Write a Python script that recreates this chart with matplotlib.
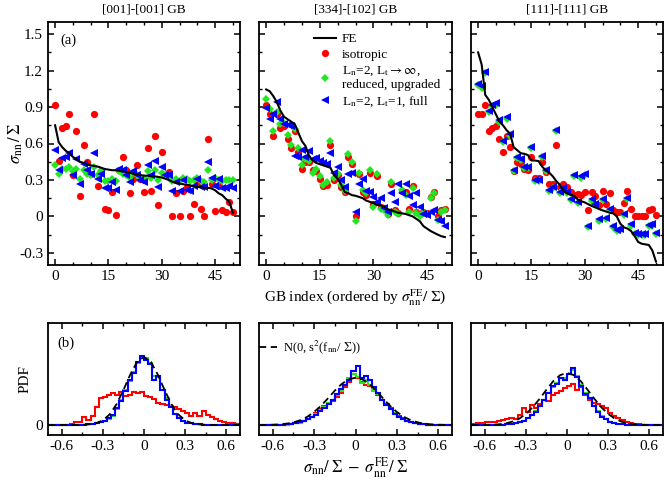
import numpy as np
import matplotlib
matplotlib.use("Agg")
import matplotlib.pyplot as plt

# --- (a) normal stress per GB, ordered by the FE value -----------------------
gb_index = list(range(51))

fe_001 = [0.75, 0.61, 0.57, 0.54, 0.52, 0.49, 0.47, 0.45, 0.44, 0.43,
          0.42, 0.415, 0.41, 0.40, 0.39, 0.385, 0.38, 0.38, 0.375, 0.37,
          0.365, 0.36, 0.35, 0.345, 0.34, 0.335, 0.335, 0.33, 0.33, 0.325,
          0.32, 0.31, 0.30, 0.285, 0.275, 0.27, 0.265, 0.26, 0.255, 0.25,
          0.245, 0.24, 0.235, 0.235, 0.23, 0.215, 0.19, 0.175, 0.145, 0.12,
          0.03]
iso_001 = [0.917, 0.455, 0.73, 0.74, 0.84, 0.34, 0.70, 0.168, 0.59, 0.444,
           0.35, 0.84, 0.248, 0.37, 0.06, 0.055, 0.2, 0.014, 0.385, 0.49,
           0.385, 0.19, 0.31, 0.427, 0.31, 0.2, 0.567, 0.205, 0.66, 0.09,
           0.53, 0.34, 0.366, 0.003, 0.19, 0.003, 0.205, 0.24, 0.0, 0.1,
           0.27, 0.06, 0.005, 0.64, 0.27, 0.047, 0.253, 0.05, 0.033, 0.118,
           0.04]
red_001 = [0.42, 0.35, 0.39, 0.39, 0.41, 0.37, 0.39, 0.31, 0.38, 0.35,
           0.34, 0.41, 0.34, 0.37, 0.29, 0.29, 0.31, 0.29, 0.37, 0.35,
           0.34, 0.32, 0.36, 0.34, 0.32, 0.32, 0.37, 0.32, 0.385, 0.30,
           0.36, 0.34, 0.32, 0.29, 0.31, 0.29, 0.32, 0.31, 0.29, 0.30,
           0.32, 0.29, 0.28, 0.38, 0.30, 0.32, 0.30, 0.29, 0.30, 0.30,
           0.30]
full_001 = [0.55, 0.38, 0.48, 0.485, 0.525, 0.34, 0.47, 0.27, 0.43, 0.38,
            0.35, 0.52, 0.31, 0.35, 0.235, 0.235, 0.28, 0.215, 0.39, 0.38,
            0.34, 0.28, 0.37, 0.34, 0.30, 0.28, 0.42, 0.34, 0.46, 0.24,
            0.41, 0.34, 0.34, 0.21, 0.28, 0.21, 0.30, 0.215, 0.21, 0.25,
            0.31, 0.24, 0.24, 0.45, 0.32, 0.25, 0.305, 0.23, 0.235, 0.25,
            0.23]

fe_334 = [1.045, 1.03, 0.99, 0.94, 0.87, 0.82, 0.80, 0.78, 0.76, 0.69,
          0.62, 0.58, 0.50, 0.46, 0.44, 0.43, 0.42, 0.41, 0.40, 0.34,
          0.31, 0.26, 0.20, 0.19, 0.175, 0.17, 0.16, 0.15, 0.13, 0.12,
          0.11, 0.095, 0.09, 0.08, 0.06, 0.05, 0.04, 0.03, 0.025, 0.02,
          0.01, 0.0, -0.02, -0.04, -0.08, -0.10, -0.12, -0.135, -0.15, -0.163,
          -0.17]
iso_334 = [0.92, 0.84, 0.66, 0.84, 0.73, 0.74, 0.64, 0.56, 0.70, 0.53,
           0.39, 0.45, 0.45, 0.38, 0.37, 0.31, 0.25, 0.26, 0.59, 0.30,
           0.34, 0.24, 0.20, 0.49, 0.43, 0.0, 0.35, 0.20, 0.18, 0.36,
           0.10, 0.33, 0.08, 0.07, 0.02, 0.27, 0.05, 0.03, 0.21, 0.20,
           0.06, 0.25, 0.04, 0.02, 0.04, 0.03, 0.16, 0.20, 0.0, 0.05,
           0.06]
red_334 = [0.97, 0.88, 0.70, 0.86, 0.76, 0.77, 0.67, 0.59, 0.72, 0.56,
           0.42, 0.47, 0.46, 0.36, 0.39, 0.33, 0.26, 0.28, 0.62, 0.32,
           0.35, 0.26, 0.21, 0.51, 0.45, -0.04, 0.36, 0.22, 0.19, 0.38,
           0.08, 0.35, 0.06, 0.05, 0.01, 0.28, 0.04, 0.02, 0.22, 0.18,
           0.04, 0.23, 0.03, 0.0, 0.03, 0.02, 0.15, 0.19, -0.03, 0.04,
           0.05]
full_334 = [0.89, 0.80, 0.84, 0.94, 0.80, 0.76, 0.75, 0.74, 0.50, 0.49,
            0.55, 0.49, 0.54, 0.47, 0.48, 0.46, 0.44, 0.43, 0.52, 0.36,
            0.41, 0.30, 0.24, 0.35, 0.36, 0.04, 0.27, 0.31, 0.21, 0.20,
            0.16, 0.12, 0.15, 0.07, 0.04, 0.19, 0.12, 0.27, 0.19, 0.27,
            0.17, 0.09, 0.19, 0.08, 0.02, 0.01, 0.04, 0.05, -0.03, -0.04,
            -0.08]

fe_111 = [1.35, 1.25, 1.0, 0.96, 0.9, 0.84, 0.78, 0.75, 0.71, 0.68,
          0.57, 0.545, 0.52, 0.515, 0.505, 0.46, 0.46, 0.455, 0.41, 0.38,
          0.36, 0.33, 0.29, 0.26, 0.21, 0.19, 0.18, 0.17, 0.14, 0.125,
          0.115, 0.10, 0.085, 0.075, 0.06, 0.05, 0.04, 0.03, 0.025, 0.0,
          -0.06, -0.09, -0.10, -0.12, -0.16, -0.21, -0.225, -0.23, -0.235, -0.28,
          -0.37]
iso_111 = [0.843, 0.843, 0.917, 0.70, 0.73, 0.745, 0.64, 0.53, 0.66, 0.57,
           0.37, 0.446, 0.43, 0.39, 0.385, 0.49, 0.32, 0.32, 0.45, 0.366,
           0.264, 0.27, 0.587, 0.242, 0.27, 0.242, 0.2, 0.18, 0.187, 0.18,
           0.2, 0.05, 0.2, 0.165, 0.09, 0.207, 0.105, 0.193, 0.05, 0.036,
           0.036, 0.113, 0.207, 0.063, 0.003, 0.003, 0.003, 0.003, 0.055, 0.063,
           0.014]
red_111 = [1.08, 1.06, 1.18, 0.86, 0.91, 0.92, 0.78, 0.61, 0.80, 0.665,
           0.37, 0.48, 0.465, 0.40, 0.40, 0.56, 0.29, 0.29, 0.49, 0.375,
           0.21, 0.23, 0.70, 0.19, 0.22, 0.19, 0.136, 0.334, 0.108, 0.32,
           0.34, -0.085, 0.13, 0.09, -0.035, 0.136, -0.021, 0.053, -0.085, -0.12,
           -0.11, 0.012, 0.14, -0.076, -0.148, -0.153, -0.153, -0.153, -0.08, -0.076,
           -0.145]
full_111 = [1.09, 1.07, 1.19, 0.87, 0.92, 0.93, 0.79, 0.62, 0.815, 0.675,
            0.38, 0.49, 0.475, 0.41, 0.41, 0.57, 0.30, 0.30, 0.50, 0.385,
            0.22, 0.24, 0.71, 0.20, 0.23, 0.20, 0.146, 0.344, 0.118, 0.33,
            0.35, -0.075, 0.14, 0.10, -0.025, 0.146, -0.011, 0.063, -0.075, -0.11,
            -0.10, 0.022, 0.15, -0.066, -0.138, -0.143, -0.143, -0.143, -0.07, -0.066,
            -0.135]

# --- (b) PDF of the deviation from FE -----------------------------------------
bin_edges = np.round(np.arange(-0.69, 0.70, 0.03), 2)   # 46 bins

h_iso_001 = [0, 0, 0, 0, 0.02, 0.03, 0.12, 0.15, 0.38, 0.23,
             0.40, 0.83, 1.2, 1.28, 1.36, 1.43, 1.36, 1.5, 1.3, 1.35,
             1.5, 1.45, 1.5, 1.31, 1.25, 1.16, 1.0, 0.95, 0.9, 0.86,
             0.83, 0.71, 0.65, 0.56, 0.41, 0.56, 0.41, 0.65, 0.45, 0.35,
             0.26, 0.2, 0.14, 0.1, 0.08, 0.05]
h_red_001 = [0, 0, 0, 0, 0, 0, 0.01, 0.01, 0.02, 0.03,
             0.05, 0.08, 0.12, 0.2, 0.28, 0.42, 0.72, 1.15, 1.6, 2.0,
             2.4, 2.8, 3.05, 3.0, 2.8, 2.2, 2.15, 1.6, 1.2, 0.85,
             0.5, 0.3, 0.16, 0.1, 0.07, 0.05, 0.03, 0.02, 0.01, 0,
             0, 0, 0, 0, 0, 0]
h_full_001 = [0, 0, 0, 0, 0, 0, 0.01, 0.01, 0.02, 0.03,
              0.05, 0.08, 0.12, 0.2, 0.3, 0.45, 0.75, 1.1, 1.55, 2.05,
              2.35, 2.85, 3.1, 2.95, 2.75, 2.05, 2.2, 1.6, 1.15, 0.8,
              0.5, 0.3, 0.18, 0.1, 0.07, 0.05, 0.03, 0.02, 0.01, 0,
              0, 0, 0, 0, 0, 0]

h_iso_334 = [0, 0, 0, 0, 0, 0.01, 0.02, 0.04, 0.07, 0.1,
             0.16, 0.25, 0.38, 0.55, 0.72, 0.85, 0.95, 1.1, 1.25, 1.45,
             1.7, 1.95, 2.3, 2.1, 1.95, 1.8, 1.75, 1.6, 1.35, 1.15,
             0.95, 0.75, 0.55, 0.42, 0.3, 0.2, 0.14, 0.09, 0.06, 0.04,
             0.02, 0.01, 0.01, 0, 0, 0]
h_red_334 = [0, 0, 0, 0, 0.01, 0.01, 0.02, 0.04, 0.07, 0.11,
             0.17, 0.26, 0.38, 0.5, 0.66, 0.8, 0.98, 1.15, 1.35, 1.55,
             1.8, 2.1, 2.3, 2.15, 1.9, 2.05, 1.8, 1.55, 1.4, 1.15,
             0.92, 0.7, 0.52, 0.38, 0.27, 0.18, 0.12, 0.08, 0.05, 0.03,
             0.02, 0.01, 0, 0, 0, 0]
h_full_334 = [0, 0, 0, 0, 0.01, 0.02, 0.03, 0.06, 0.08, 0.12,
              0.18, 0.26, 0.38, 0.45, 0.62, 0.78, 0.95, 1.15, 1.38, 1.62,
              1.8, 2.05, 2.45, 2.67, 2.1, 2.2, 2.05, 1.7, 1.45, 1.15,
              0.9, 0.7, 0.5, 0.38, 0.28, 0.18, 0.12, 0.08, 0.05, 0.03,
              0.02, 0.01, 0, 0, 0, 0]

h_iso_111 = [0.05, 0.1, 0.1, 0.12, 0.15, 0.15, 0.2, 0.22, 0.25, 0.3,
             0.28, 0.45, 0.75, 0.6, 0.9, 0.75, 0.95, 1.15, 1.1, 1.35,
             1.45, 1.55, 1.65, 1.75, 1.85, 1.6, 1.7, 1.35, 1.15, 1.0,
             0.95, 0.85, 0.75, 0.55, 0.4, 0.3, 0.22, 0.15, 0.1, 0.06,
             0.03, 0.02, 0.01, 0, 0, 0]
h_red_111 = [0, 0, 0, 0, 0, 0.01, 0.02, 0.02, 0.03, 0.05,
             0.08, 0.12, 0.2, 0.32, 0.45, 0.62, 0.88, 1.15, 1.45, 1.72,
             1.9, 2.1, 2.1, 2.3, 2.5, 2.2, 1.8, 1.45, 1.2, 0.88,
             0.62, 0.4, 0.26, 0.15, 0.09, 0.05, 0.03, 0.02, 0.01, 0.01,
             0, 0, 0, 0, 0, 0]
h_full_111 = [0, 0, 0, 0, 0, 0.01, 0.02, 0.02, 0.03, 0.05,
              0.08, 0.12, 0.2, 0.3, 0.45, 0.6, 0.85, 1.15, 1.45, 1.75,
              1.85, 2.1, 2.05, 2.3, 2.56, 2.15, 1.75, 1.4, 1.2, 0.85,
              0.6, 0.38, 0.25, 0.14, 0.08, 0.05, 0.03, 0.02, 0.01, 0.01,
              0, 0, 0, 0, 0, 0]

# N(0, s^2) curves
gauss_x = [-0.7, -0.65, -0.6, -0.55, -0.5, -0.45, -0.4, -0.35, -0.3, -0.25,
           -0.2, -0.15, -0.1, -0.05, 0.0, 0.05, 0.1, 0.15, 0.2, 0.25,
           0.3, 0.35, 0.4, 0.45, 0.5, 0.55, 0.6, 0.65, 0.7]
gauss_001 = [0, 0, 0, 0, 0.002, 0.008, 0.03, 0.08, 0.21, 0.48,
             0.94, 1.58, 2.28, 2.85, 3.07, 2.85, 2.28, 1.58, 0.94, 0.48,
             0.21, 0.08, 0.03, 0.008, 0.002, 0, 0, 0, 0]
gauss_334 = [0.002, 0.005, 0.013, 0.03, 0.06, 0.12, 0.22, 0.37, 0.59, 0.87,
             1.20, 1.55, 1.85, 2.06, 2.13, 2.06, 1.85, 1.55, 1.20, 0.87,
             0.59, 0.37, 0.22, 0.12, 0.06, 0.03, 0.013, 0.005, 0.002]
gauss_111 = [0, 0.001, 0.004, 0.012, 0.03, 0.07, 0.15, 0.28, 0.50, 0.80,
             1.18, 1.59, 1.98, 2.25, 2.35, 2.25, 1.98, 1.59, 1.18, 0.80,
             0.50, 0.28, 0.15, 0.07, 0.03, 0.012, 0.004, 0.001, 0]

titles = ["[001]-[001] GB", "[334]-[102] GB", "[111]-[111] GB"]

RED, GREEN, BLUE = "#ff0000", "#22e622", "#0000ff"

plt.rcParams.update({
    "font.family": "serif",
    "font.serif": ["Liberation Serif", "DejaVu Serif"],
    "mathtext.fontset": "stix",
    "xtick.direction": "in", "ytick.direction": "in",
    "xtick.top": True, "ytick.right": True,
    "axes.linewidth": 1.3,
    "xtick.major.width": 1.1, "ytick.major.width": 1.1,
    "xtick.minor.width": 1.0, "ytick.minor.width": 1.0,
    "xtick.major.size": 4, "ytick.major.size": 4,
    "xtick.minor.size": 2.2, "ytick.minor.size": 2.2,
    "xtick.labelsize": 11, "ytick.labelsize": 11,
})

W, H = 664, 483
fig = plt.figure(figsize=(W / 100, H / 100), dpi=100)

def px_axes(x0, x1, y0, y1):
    return fig.add_axes([x0 / W, 1 - y1 / H, (x1 - x0) / W, (y1 - y0) / H])

cols = [(48, 240), (259, 452), (471, 663)]
top_axes = [px_axes(a, b, 22, 265) for a, b in cols]
bot_axes = [px_axes(a, b, 323, 435) for a, b in cols]

series_top = [(fe_001, iso_001, red_001, full_001),
              (fe_334, iso_334, red_334, full_334),
              (fe_111, iso_111, red_111, full_111)]
series_bot = [(h_iso_001, h_red_001, h_full_001, gauss_001),
              (h_iso_334, h_red_334, h_full_334, gauss_334),
              (h_iso_111, h_red_111, h_full_111, gauss_111)]

for i, ax in enumerate(top_axes):
    fe, iso, red, full = series_top[i]
    l_fe, = ax.plot(gb_index, fe, color="black", lw=1.5, zorder=4)
    l_iso, = ax.plot(gb_index, iso, "o", color=RED, ms=5.2, mew=0, zorder=2)
    l_red, = ax.plot(gb_index, red, "D", color=GREEN, ms=3.8, mew=0, zorder=2)
    l_full, = ax.plot(gb_index, full, "<", color=BLUE, ms=5.5, mew=0, zorder=3)
    ax.set_xlim(-2, 52)
    ax.set_ylim(-0.4, 1.6)
    ax.set_xticks([0, 15, 30, 45])
    ax.set_xticks(range(0, 51, 5), minor=True)
    ax.set_yticks([-0.3, 0, 0.3, 0.6, 0.9, 1.2, 1.5])
    ax.set_yticks(np.arange(-0.3, 1.55, 0.15), minor=True)
    if i == 0:
        ax.set_yticklabels(["-0.3", "0", "0.3", "0.6", "0.9", "1.2", "1.5"])
    else:
        ax.set_yticklabels([])
    ax.tick_params(which="both", top=True, right=True)
    fig.text((cols[i][0] + cols[i][1]) / 2 / W, 1 - 10 / H, titles[i],
             ha="center", va="center", fontsize=9.5)

top_axes[1].legend([l_fe, l_iso, l_red, l_full],
                   ["FE", "isotropic",
                    "L$_{\\rm n}$=2, L$_{\\rm t}$$\\rightarrow\\infty$,\nreduced, upgraded",
                    "L$_{\\rm n}$=2, L$_{\\rm t}$=1, full"],
                   loc="upper left", bbox_to_anchor=(0.285, 0.955), frameon=False,
                   fontsize=9.5, handlelength=1.7, handletextpad=0.4,
                   labelspacing=0.25, borderaxespad=0, borderpad=0, numpoints=1)
top_axes[0].text(0.065, 0.925, "(a)", transform=top_axes[0].transAxes,
                 ha="left", va="center", fontsize=10.5)

for i, ax in enumerate(bot_axes):
    iso, red, full, gauss = series_bot[i]
    ax.stairs(iso, bin_edges, color=RED, lw=1.5)
    ax.stairs(red, bin_edges, color=GREEN, lw=1.5)
    ax.stairs(full, bin_edges, color=BLUE, lw=1.5)
    g, = ax.plot(gauss_x, gauss, color="black", lw=1.3, ls=(0, (4, 2.5)))
    ax.set_xlim(-0.7, 0.7)
    ax.set_ylim(-0.45, 4.6)
    ax.set_xticks([-0.6, -0.3, 0, 0.3, 0.6])
    ax.set_xticklabels(["-0.6", "-0.3", "0", "0.3", "0.6"])
    ax.set_xticks(np.arange(-0.6, 0.61, 0.15), minor=True)
    ax.set_yticks([0])
    ax.set_yticklabels(["0"] if i == 0 else [])
    ax.tick_params(which="both", top=True, right=False, left=False)
    if i == 1:
        ax.legend([g], ["N(0, s$^2$(f$_{\\rm nn}$/ $\\Sigma$))"], loc="center left",
                  bbox_to_anchor=(0.0, 0.786), frameon=False, fontsize=9,
                  handlelength=1.4, handletextpad=0.5, borderaxespad=0, borderpad=0)

bot_axes[0].text(0.05, 0.82, "(b)", transform=bot_axes[0].transAxes,
                 ha="left", va="center", fontsize=10.5)

fig.text(16 / W, 1 - 143 / H, r"$\sigma_{\rm nn}\,/\,\Sigma$", rotation=90,
         ha="center", va="center", fontsize=12)
fig.text(25 / W, 1 - 379 / H, "PDF", rotation=90, ha="center", va="center", fontsize=11)
fig.text(355.5 / W, 1 - 298 / H,
         r"GB index (ordered by $\sigma_{\rm nn}^{\rm FE}/\;\Sigma$)",
         ha="center", va="center", fontsize=11)
fig.text(356 / W, 1 - 468 / H,
         r"$\sigma_{\rm nn}/\;\Sigma\;-\;\sigma_{\rm nn}^{\rm FE}/\;\Sigma$",
         ha="center", va="center", fontsize=12)

fig.savefig("out.png", dpi=100)
